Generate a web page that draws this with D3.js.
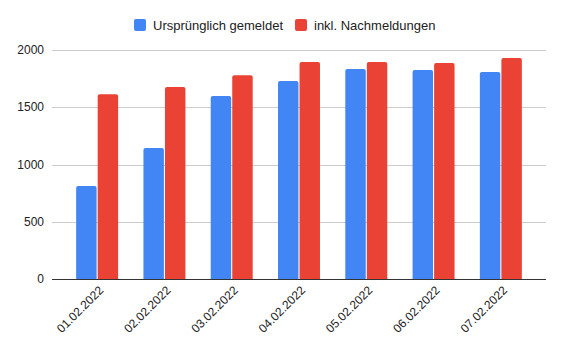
<!DOCTYPE html>
<html>
<head>
<meta charset="utf-8">
<script src="https://cdn.jsdelivr.net/npm/d3@7"></script>
<style>
  body { margin: 0; background: #fff; }
  text { font-family: "Liberation Sans", Arial, sans-serif; }
</style>
</head>
<body>
<div id="chart"></div>
<script>
const dates = ["01.02.2022", "02.02.2022", "03.02.2022", "04.02.2022", "05.02.2022", "06.02.2022", "07.02.2022"];
const seriesNames = ["Ursprünglich gemeldet", "inkl. Nachmeldungen"];
const original = [812, 1144, 1598, 1729, 1834, 1825, 1808];
const withLate = [1613, 1677, 1779, 1895, 1895, 1886, 1930];
const yTicks = [0, 500, 1000, 1500, 2000];
const colors = ["#4285F4", "#EA4335"];

const width = 564, height = 352;
const gridLeft = 52, gridRight = 546;

const svg = d3.select("#chart").append("svg")
    .attr("width", width)
    .attr("height", height)
    .attr("viewBox", [0, 0, width, height]);

const y = d3.scaleLinear().domain([0, 2000]).range([279, 50]);
const x0 = d3.scaleBand().domain(dates).range([63.5, 534.5]).paddingInner(0.376).paddingOuter(0.188);
const x1 = d3.scaleBand().domain(seriesNames).range([0, x0.bandwidth()]).paddingInner(0.05);

// gridlines + y labels
svg.append("g")
  .selectAll("line")
  .data(yTicks.filter(d => d > 0))
  .join("line")
    .attr("x1", gridLeft).attr("x2", gridRight)
    .attr("y1", d => Math.round(y(d)) + 0.5).attr("y2", d => Math.round(y(d)) + 0.5)
    .attr("stroke", "#cccccc");

svg.append("g")
    .attr("font-size", 12)
    .attr("fill", "#222")
    .attr("text-anchor", "end")
  .selectAll("text")
  .data(yTicks)
  .join("text")
    .attr("x", 44)
    .attr("y", d => y(d))
    .attr("dy", "0.35em")
    .text(d => d);

// bars
const rows = dates.map((d, i) => ({date: d, values: [original[i], withLate[i]]}));

function barPath(x, w, top, bottom, r) {
  return `M${x},${bottom}V${top + r}Q${x},${top} ${x + r},${top}H${x + w - r}Q${x + w},${top} ${x + w},${top + r}V${bottom}Z`;
}

svg.append("g")
  .selectAll("g")
  .data(rows)
  .join("g")
    .attr("transform", d => `translate(${x0(d.date)},0)`)
  .selectAll("path")
  .data(d => d.values.map((v, k) => ({name: seriesNames[k], value: v, k})))
  .join("path")
    .attr("fill", d => colors[d.k])
    .attr("d", d => barPath(x1(d.name), x1.bandwidth(), y(d.value), y(0), 2));

// baseline
svg.append("line")
    .attr("x1", gridLeft).attr("x2", gridRight)
    .attr("y1", 279.5).attr("y2", 279.5)
    .attr("stroke", "#333");

// x labels
svg.append("g")
    .attr("font-size", 12)
    .attr("fill", "#222")
    .attr("text-anchor", "end")
  .selectAll("text")
  .data(dates)
  .join("text")
    .attr("transform", d => `translate(${x0(d) + x0.bandwidth() / 2 + 7},${291}) rotate(-45)`)
    .text(d => d);

// legend
const legend = svg.append("g").attr("font-size", 13).attr("fill", "#222");
const legendX = [134, 295];
seriesNames.forEach((name, k) => {
  legend.append("rect")
      .attr("x", legendX[k]).attr("y", 19)
      .attr("width", 12).attr("height", 12)
      .attr("rx", 2)
      .attr("fill", colors[k]);
  legend.append("text")
      .attr("x", legendX[k] + 19).attr("y", 25)
      .attr("dy", "0.35em")
      .text(name);
});
</script>
</body>
</html>
